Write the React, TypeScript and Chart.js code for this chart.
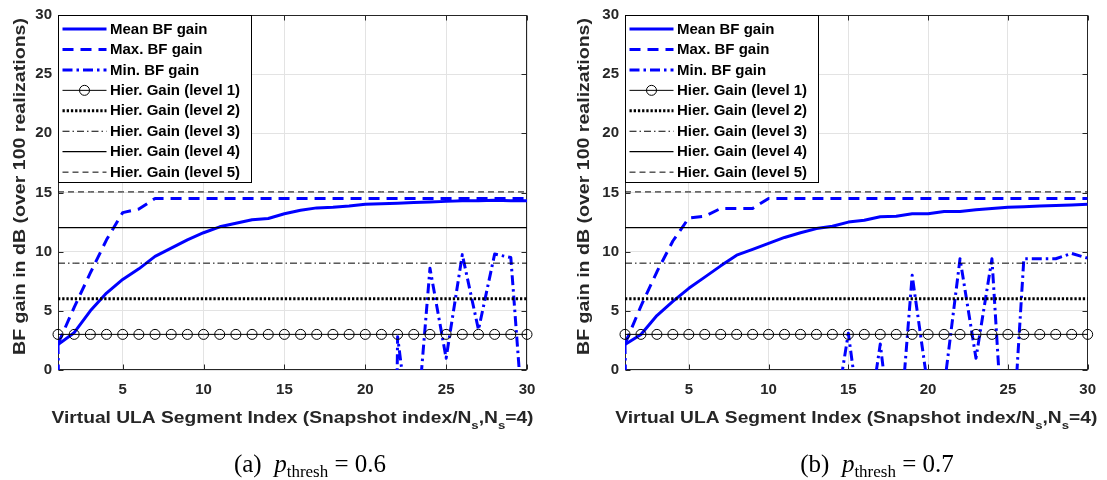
import React, { useEffect, useRef } from "react";
import { Chart, registerables } from "chart.js";

Chart.register(...registerables);

// ---------------- data ----------------
const segmentIndex = [
  1, 2, 3, 4, 5, 6, 7, 8, 9, 10, 11, 12, 13, 14, 15, 16, 17, 18, 19, 20, 21, 22, 23, 24, 25, 26, 27, 28, 29, 30,
];
const xTickValues = [5, 10, 15, 20, 25, 30];
const yTickValues = [0, 5, 10, 15, 20, 25, 30];

const hierLevels = [1, 2, 3, 4, 5];
const hierGainDb = [3.01, 6.02, 9.03, 12.04, 15.05];

// (a) p_thresh = 0.6
const meanGainA = [
  2.15, 3.15, 5.0, 6.5, 7.65, 8.55, 9.6, 10.3, 11.0, 11.6, 12.1, 12.4, 12.7, 12.8, 13.2, 13.5, 13.7, 13.75, 13.85,
  14.0, 14.05, 14.1, 14.15, 14.2, 14.25, 14.3, 14.3, 14.35, 14.3, 14.3,
];
const maxGainA = [
  2.2, 5.3, 8.2, 11.0, 13.3, 13.6, 14.5, 14.5, 14.5, 14.5, 14.5, 14.5, 14.5, 14.5, 14.5, 14.5, 14.5, 14.5, 14.5,
  14.5, 14.5, 14.5, 14.5, 14.5, 14.5, 14.5, 14.5, 14.5, 14.5, 14.5,
];
const minGainA = [
  2.2, -100, -100, -100, -100, -100, -100, -100, -100, -100, -100, -100, -100, -100, -100, -100, -100, -100, -100,
  -100, -100, 2.8, -8, 8.6, 1.0, 9.75, 3.4, 9.8, 9.5, -8.8,
];

// (b) p_thresh = 0.7
const meanGainB = [
  2.15, 3.0, 4.6, 5.8, 6.9, 7.85, 8.8, 9.7, 10.2, 10.7, 11.2, 11.6, 11.95, 12.15, 12.5, 12.65, 12.95, 13.0, 13.2,
  13.2, 13.4, 13.4, 13.55, 13.65, 13.75, 13.8, 13.85, 13.9, 13.95, 14.0,
];
const maxGainB = [
  2.2, 5.4, 8.3, 10.9, 12.85, 13.0, 13.65, 13.65, 13.65, 14.5, 14.5, 14.5, 14.5, 14.5, 14.5, 14.5, 14.5, 14.5, 14.5,
  14.5, 14.5, 14.5, 14.5, 14.5, 14.5, 14.5, 14.5, 14.5, 14.5, 14.5,
];
const minGainB = [
  2.2, -100, -100, -100, -100, -100, -100, -100, -100, -100, -100, -100, -100, -5.3, 3.1, -7, 2.2, -9, 8.0, -1.6,
  -1.5, 9.4, 1.0, 9.4, -12.5, 9.4, 9.4, 9.4, 9.85, 9.45,
];

const seriesLabels = ["Mean BF gain", "Max. BF gain", "Min. BF gain"];
const panelTags = ["(a)", "(b)"];
const pThresh = ["0.6", "0.7"];
const yTitle = "BF gain in dB (over 100 realizations)";
const xTitleParts = [
  { t: "Virtual ULA Segment Index (Snapshot index/N", sub: false },
  { t: "s", sub: true },
  { t: ",N", sub: false },
  { t: "s", sub: true },
  { t: "=4)", sub: false },
];

// ---------------- styles ----------------
const SANS = '"Liberation Sans", Arial, Helvetica, sans-serif';
const BLUE = "#0000ff";
const AXIS = "#262626";
const GRID = "#e3e3e3";

const blueStyles = [
  { borderDash: [] as number[], borderWidth: 3 },
  { borderDash: [11, 7], borderWidth: 3 },
  { borderDash: [10, 4, 2.5, 4], borderWidth: 3 },
];
const hierStyles = [
  { borderDash: [] as number[], borderWidth: 1, pointRadius: 5 },
  { borderDash: [2.3, 1.9], borderWidth: 3, pointRadius: 0 },
  { borderDash: [7, 3, 1.5, 3], borderWidth: 1, pointRadius: 0 },
  { borderDash: [] as number[], borderWidth: 1.2, pointRadius: 0 },
  { borderDash: [6, 4], borderWidth: 1, pointRadius: 0 },
];

const panelLayout = [
  { left: 0, width: 553, yAxisWidth: 58, padRight: 26, yTitleOffset: 37.5, captionX: 310 },
  { left: 553, width: 554, yAxisWidth: 72, padRight: 14, yTitleOffset: 40.5, captionX: 877 },
];
const CANVAS_H = 480;
const PLOT_TOP = 13;
const PLOT_BOTTOM = 370;
const XTITLE_BASELINE = 423;

function toXY(values: number[]) {
  return segmentIndex.map((x, i) => ({ x, y: values[i] }));
}

function buildDatasets(series: number[][]) {
  const blue = series.map((vals, i) => ({
    label: seriesLabels[i],
    data: toXY(vals),
    borderColor: BLUE,
    backgroundColor: BLUE,
    borderWidth: blueStyles[i].borderWidth,
    borderDash: blueStyles[i].borderDash,
    borderJoinStyle: "round" as const,
    pointRadius: 0,
    tension: 0,
    order: 10,
  }));
  const hier = hierGainDb.map((g, k) => ({
    label: `Hier. Gain (level ${hierLevels[k]})`,
    data: segmentIndex.map((x) => ({ x, y: g })),
    borderColor: "#000000",
    backgroundColor: "rgba(0,0,0,0)",
    borderWidth: hierStyles[k].borderWidth,
    borderDash: hierStyles[k].borderDash,
    pointRadius: hierStyles[k].pointRadius,
    pointBorderColor: "#000000",
    pointBackgroundColor: "rgba(0,0,0,0)",
    pointBorderWidth: 1,
    pointStyle: "circle" as const,
    tension: 0,
    clip: false as const,
    order: 1,
  }));
  return [...blue, ...hier];
}

const framePlugin = {
  id: "matlabFrame",
  beforeDatasetsDraw(chart: any) {
    const { ctx, chartArea } = chart;
    const { left, right, top, bottom } = chartArea;
    const xs = chart.scales.x;
    const ys = chart.scales.y;
    ctx.save();
    ctx.strokeStyle = AXIS;
    ctx.lineWidth = 1;
    ctx.setLineDash([]);
    const L = Math.round(left) + 0.5;
    const R = Math.round(right) - 0.5;
    const T = Math.round(top) + 0.5;
    const B = Math.round(bottom) - 0.5;
    ctx.strokeRect(L, T, R - L, B - T);
    ctx.beginPath();
    xTickValues.forEach((v) => {
      const px = Math.round(xs.getPixelForValue(v)) + 0.5;
      ctx.moveTo(px, B);
      ctx.lineTo(px, B - 5);
      ctx.moveTo(px, T);
      ctx.lineTo(px, T + 5);
    });
    yTickValues.forEach((v) => {
      const py = Math.round(ys.getPixelForValue(v)) + 0.5;
      ctx.moveTo(L, py);
      ctx.lineTo(L + 5, py);
      ctx.moveTo(R, py);
      ctx.lineTo(R - 5, py);
    });
    ctx.stroke();
    ctx.restore();
  },
};

function makeOverlayPlugin(yTitleOffset: number) {
  return {
    id: "overlay",
    afterDraw(chart: any) {
      const { ctx, chartArea } = chart;
      const { left, right, top } = chartArea;
      ctx.save();

      // legend
      const boxW = 193;
      const boxH = 167;
      const bx = Math.round(left) + 0.5;
      const by = Math.round(top) + 0.5;
      ctx.fillStyle = "#ffffff";
      ctx.fillRect(bx, by, boxW, boxH);
      ctx.strokeStyle = "#000000";
      ctx.lineWidth = 1;
      ctx.setLineDash([]);
      ctx.strokeRect(bx, by, boxW, boxH);
      const dsList = chart.data.datasets;
      dsList.forEach((ds: any, i: number) => {
        const y = top + 14 + i * 20.45;
        const x0 = left + 4.5;
        const x1 = left + 48.5;
        ctx.save();
        ctx.strokeStyle = ds.borderColor;
        ctx.lineWidth = ds.borderWidth;
        ctx.setLineDash(ds.borderDash || []);
        ctx.beginPath();
        ctx.moveTo(x0, y);
        ctx.lineTo(x1, y);
        ctx.stroke();
        if (ds.pointRadius > 0) {
          ctx.setLineDash([]);
          ctx.lineWidth = 1;
          ctx.beginPath();
          ctx.arc((x0 + x1) / 2, y, ds.pointRadius, 0, Math.PI * 2);
          ctx.stroke();
        }
        ctx.restore();
        ctx.fillStyle = "#000000";
        ctx.font = `bold 15px ${SANS}`;
        ctx.textAlign = "left";
        ctx.textBaseline = "middle";
        ctx.fillText(ds.label, left + 52, y + 0.5);
      });

      // y title
      ctx.fillStyle = AXIS;
      ctx.font = `bold 16px ${SANS}`;
      const yw = ctx.measureText(yTitle).width;
      ctx.save();
      ctx.translate(left - yTitleOffset, (PLOT_TOP + 360) / 2);
      ctx.rotate(-Math.PI / 2);
      ctx.scale(337 / yw, 1);
      ctx.textAlign = "center";
      ctx.textBaseline = "middle";
      ctx.fillText(yTitle, 0, 0);
      ctx.restore();

      // x title with subscripts
      const mainFont = `bold 16px ${SANS}`;
      const subFont = `bold 11px ${SANS}`;
      let total = 0;
      const widths = xTitleParts.map((p) => {
        ctx.font = p.sub ? subFont : mainFont;
        const w = ctx.measureText(p.t).width;
        total += w;
        return w;
      });
      const targetW = 482;
      const k = targetW / total;
      ctx.save();
      ctx.translate((left + right) / 2 - targetW / 2, XTITLE_BASELINE);
      ctx.scale(k, 1);
      ctx.textAlign = "left";
      ctx.textBaseline = "alphabetic";
      let cx = 0;
      xTitleParts.forEach((p, i) => {
        ctx.font = p.sub ? subFont : mainFont;
        ctx.fillText(p.t, cx, p.sub ? 6 : 0);
        cx += widths[i];
      });
      ctx.restore();

      ctx.restore();
    },
  };
}

function Panel({ idx, series }: { idx: number; series: number[][] }) {
  const ref = useRef<HTMLCanvasElement | null>(null);
  const lay = panelLayout[idx];
  useEffect(() => {
    if (!ref.current) return;
    const chart = new Chart(ref.current, {
      type: "line",
      data: { datasets: buildDatasets(series) as any },
      options: {
        responsive: false,
        animation: false,
        events: [],
        layout: { padding: { left: 0, right: lay.padRight, top: PLOT_TOP, bottom: 0 } },
        plugins: { legend: { display: false }, tooltip: { enabled: false } },
        scales: {
          x: {
            type: "linear",
            min: 1,
            max: 30,
            afterBuildTicks: (s: any) => {
              s.ticks = xTickValues.map((v) => ({ value: v }));
            },
            afterFit: (s: any) => {
              s.height = CANVAS_H - PLOT_BOTTOM;
            },
            ticks: {
              font: { family: SANS, size: 15, weight: "bold" },
              color: AXIS,
              padding: 11,
              maxRotation: 0,
              autoSkip: false,
            },
            grid: { color: GRID, drawTicks: false, lineWidth: 1 },
            border: { display: false },
          },
          y: {
            type: "linear",
            min: 0,
            max: 30,
            afterBuildTicks: (s: any) => {
              s.ticks = yTickValues.map((v) => ({ value: v }));
            },
            afterFit: (s: any) => {
              s.width = lay.yAxisWidth;
            },
            ticks: {
              font: { family: SANS, size: 15, weight: "bold" },
              color: AXIS,
              padding: 6,
              autoSkip: false,
            },
            grid: { color: GRID, drawTicks: false, lineWidth: 1 },
            border: { display: false },
          },
        },
      } as any,
      plugins: [framePlugin, makeOverlayPlugin(lay.yTitleOffset)],
    });
    return () => chart.destroy();
  }, []);
  return (
    <>
      <canvas
        ref={ref}
        width={lay.width}
        height={CANVAS_H}
        style={{ position: "absolute", left: lay.left, top: 0, width: lay.width, height: CANVAS_H }}
      />
      <div
        style={{
          position: "absolute",
          left: lay.captionX,
          top: 449,
          transform: "translateX(-50%)",
          whiteSpace: "nowrap",
          fontFamily: '"Liberation Serif", "DejaVu Serif", serif',
          fontSize: 25,
          lineHeight: "30px",
          color: "#000",
        }}
      >
        {panelTags[idx]}&nbsp;&nbsp;<i>p</i>
        <span style={{ fontSize: 17, position: "relative", top: 5 }}>thresh</span>
        &nbsp;=&nbsp;{pThresh[idx]}
      </div>
    </>
  );
}

export default function App() {
  return (
    <div
      style={{
        position: "fixed",
        left: 0,
        top: 0,
        width: 1107,
        height: 480,
        background: "#ffffff",
        overflow: "hidden",
      }}
    >
      <Panel idx={0} series={[meanGainA, maxGainA, minGainA]} />
      <Panel idx={1} series={[meanGainB, maxGainB, minGainB]} />
    </div>
  );
}
